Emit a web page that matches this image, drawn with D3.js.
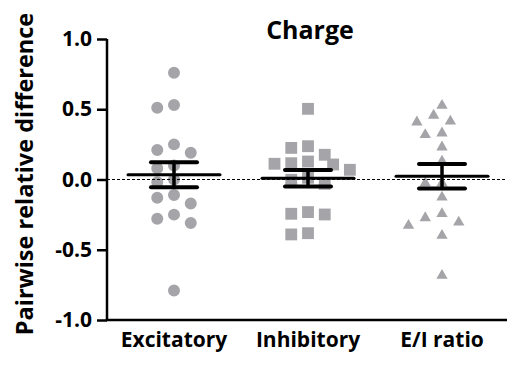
<!DOCTYPE html>
<html>
<head>
<meta charset="utf-8">
<script src="https://cdn.jsdelivr.net/npm/d3@7"></script>
<style>
  body { margin: 0; background: #fff; }
  svg text { font-family: 'Open Sans', 'Segoe UI', sans-serif; font-weight: bold; fill: #000; }
</style>
</head>
<body>
<svg id="chart" width="508" height="365"></svg>
<script>
// values
var categories = ['Excitatory', 'Inhibitory', 'E/I ratio'];
var excitatory = [0.76, 0.51, 0.53, 0.21, 0.25, 0.19, 0.10, 0.08, 0.00, -0.02,
  -0.11, -0.17, -0.13, -0.28, -0.31, -0.25, -0.79];
var inhibitory = [0.503, 0.225, 0.237, 0.176, 0.128, 0.112, 0.107, 0.116, 0.069,
  0.012, -0.002, -0.031, -0.244, -0.249, -0.232, -0.391, -0.382];
var eiRatio = [0.527, 0.415, 0.456, 0.408, 0.330, 0.318, 0.230, 0.130, -0.026,
  -0.026, -0.126, -0.273, -0.244, -0.327, -0.304, -0.399, -0.683];
var yTicks = [-1.0, -0.5, 0.0, 0.5, 1.0];

var series = [excitatory, inhibitory, eiRatio];
var shapes = [d3.symbolCircle, d3.symbolSquare, d3.symbolTriangle];
var shapeSize = [113, 140, 56];
var grey = '#a5a5a9';

var svg = d3.select('#chart');
var x = d3.scaleBand().domain(categories).range([107, 509]);
var y = d3.scaleLinear().domain([-1, 1]).range([320, 39]);

// simple dodge so points in one column don't sit on top of each other
function dodge(vals, cx) {
  var step = x.bandwidth() / 16;
  var minD = 12.5;
  var placed = [];
  var order = d3.range(vals.length).sort(function(a, b) { return vals[b] - vals[a]; });
  var out = new Array(vals.length);
  order.forEach(function(i) {
    var py = y(vals[i]);
    for (var k = 0; k < 40; ++k) {
      var off = (k % 2 ? -1 : 1) * Math.ceil(k / 2) * step;
      var ok = placed.every(function(p) {
        var dx = p[0] - (cx + off), dy = p[1] - py;
        return dx * dx + dy * dy >= minD * minD;
      });
      if (ok) { out[i] = [cx + off, py]; placed.push(out[i]); break; }
    }
  });
  return out;
}

// points
series.forEach(function(vals, s) {
  var cx = x(categories[s]) + x.bandwidth() / 2;
  var pts = dodge(vals, cx);
  svg.append('g').selectAll('path')
    .data(pts)
    .enter().append('path')
    .attr('d', d3.symbol().type(shapes[s]).size(shapeSize[s]))
    .attr('transform', function(d) { return 'translate(' + d[0] + ',' + d[1] + ')'; })
    .style('fill', grey);
});

// zero line
svg.append('line')
  .attr('x1', x.range()[0]).attr('x2', x.range()[1] - 2)
  .attr('y1', y(0)).attr('y2', y(0))
  .style('stroke', '#000').style('stroke-width', 1)
  .style('stroke-dasharray', '3,2');

// mean +- SEM
series.forEach(function(vals, s) {
  var cx = x(categories[s]) + x.bandwidth() / 2;
  var m = d3.mean(vals);
  var sem = d3.deviation(vals) / Math.sqrt(vals.length);
  var g = svg.append('g').style('stroke', '#000').style('stroke-linecap', 'round');
  g.append('line').attr('x1', cx - 46).attr('x2', cx + 46)
    .attr('y1', y(m)).attr('y2', y(m)).style('stroke-width', 3);
  g.append('line').attr('x1', cx).attr('x2', cx)
    .attr('y1', y(m + sem)).attr('y2', y(m - sem)).style('stroke-width', 3.5);
  [m + sem, m - sem].forEach(function(v) {
    g.append('line').attr('x1', cx - 23).attr('x2', cx + 23)
      .attr('y1', y(v)).attr('y2', y(v)).style('stroke-width', 4);
  });
});

// axes
var yAxis = svg.append('g')
  .attr('transform', 'translate(107,0)')
  .call(d3.axisLeft(y).tickValues(yTicks).tickFormat(d3.format('.1f')).tickSize(10).tickPadding(5));
yAxis.select('.domain').attr('d', 'M0,' + y(1) + 'V' + y(-1)).style('stroke-width', 2.5);
yAxis.selectAll('.tick line').style('stroke-width', 2.5);
yAxis.selectAll('.tick text').style('font-size', '21px')
  .text(function(d) { return d3.format('.1f')(d).replace('−', '-'); });

var xAxis = svg.append('g')
  .attr('transform', 'translate(0,' + y(-1) + ')')
  .call(d3.axisBottom(x).tickSize(0).tickPadding(12));
xAxis.select('.domain').attr('d', 'M' + (x.range()[0] - 1.2) + ',0H' + (x.range()[1] - 2)).style('stroke-width', 2.5);
xAxis.selectAll('.tick text').style('font-size', '21px');

// titles
svg.append('text')
  .attr('x', 310).attr('y', 39)
  .attr('text-anchor', 'middle')
  .style('font-size', '25px')
  .text('Charge');

svg.append('text')
  .attr('transform', 'translate(33,174) rotate(-90)')
  .attr('text-anchor', 'middle')
  .style('font-size', '23.5px')
  .text('Pairwise relative difference');
</script>
</body>
</html>
